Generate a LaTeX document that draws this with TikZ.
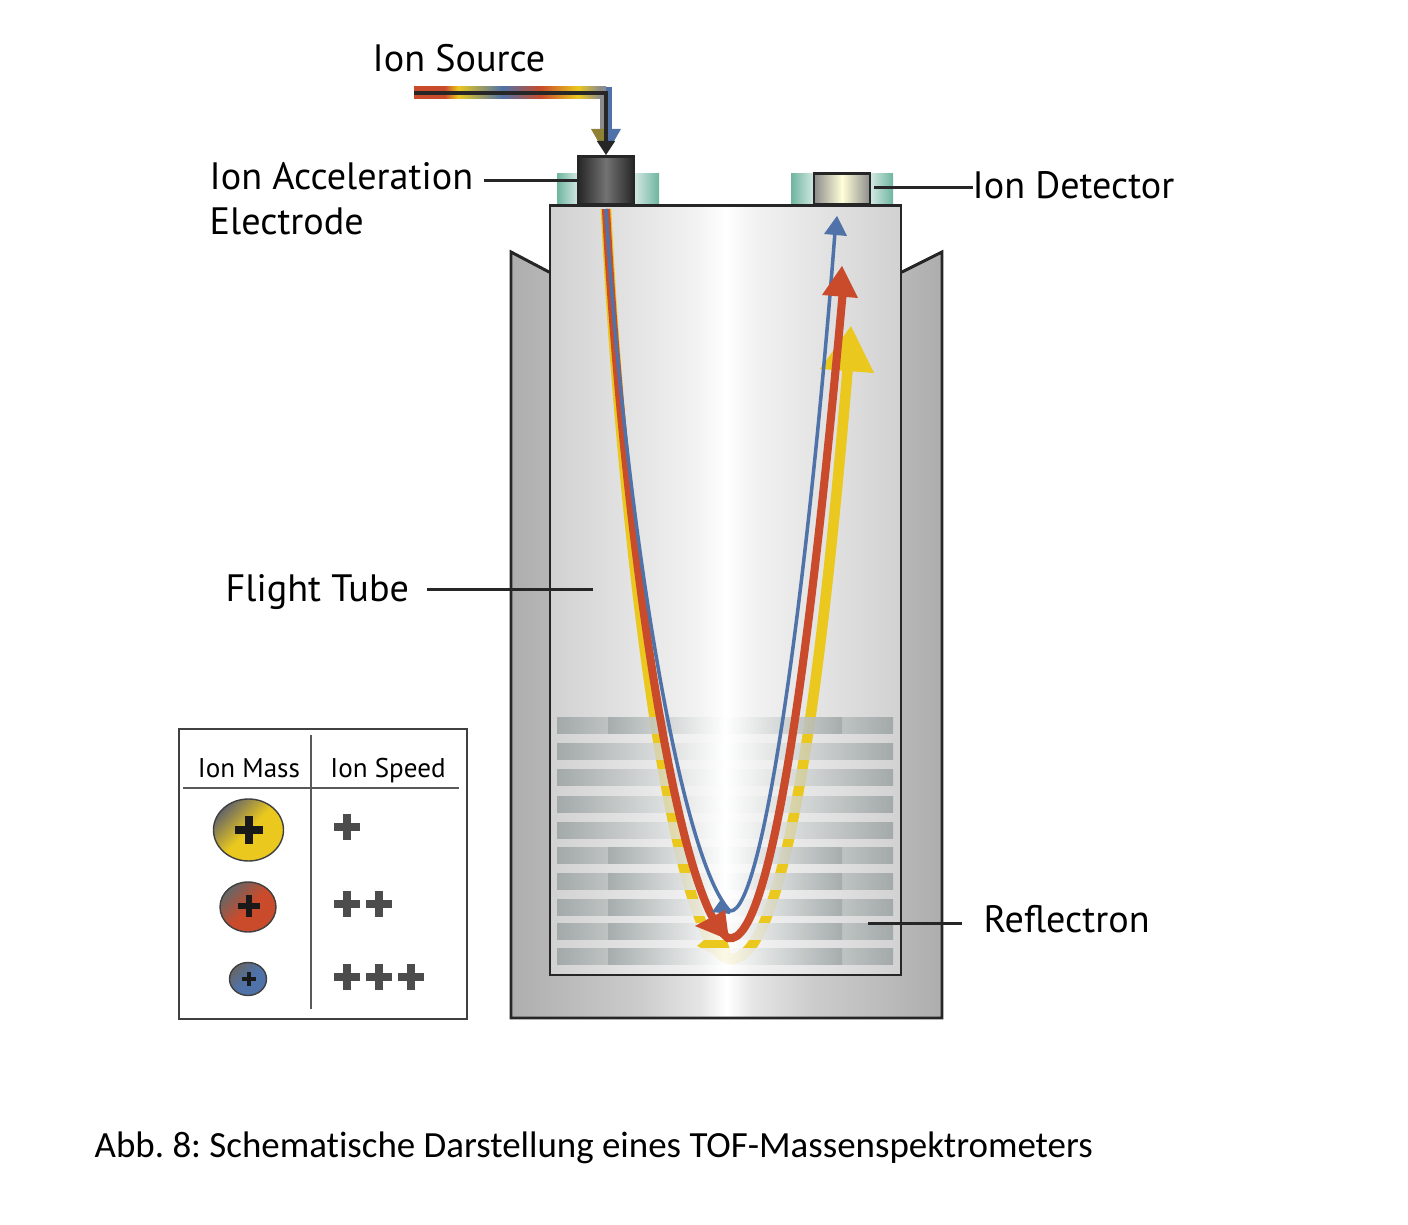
\documentclass[tikz,border=0pt]{standalone}
\usepackage{fontspec}
\setmainfont{PT Sans}
\newfontfamily\capfont[Ligatures=NoCommon]{Carlito}
\usetikzlibrary{shapes.geometric,arrows.meta,calc}
\definecolor{ionyellow}{HTML}{EAC81E}
\definecolor{ionred}{HTML}{C94B2B}
\definecolor{ionblue}{HTML}{4F72A8}
\definecolor{ionteal}{HTML}{6FB5A0}
\definecolor{plategray}{HTML}{939C9B}
\pgfdeclarehorizontalshading{ionbeam}{100bp}{color(0bp)=(ionred);color(25bp)=(ionred);
  color(33bp)=(ionred);color(36.5bp)=(ionyellow);color(48bp)=(ionblue);
  color(58bp)=(ionred);color(67.7bp)=(ionyellow);color(73.4bp)=(black!45);
  color(75bp)=(black!45);color(100bp)=(black!45)}
\pgfdeclarehorizontalshading{housing}{100bp}{color(0bp)=(black!32);color(25bp)=(black!32);
  color(40bp)=(black!20);color(47bp)=(black!10);color(50bp)=(white);color(53bp)=(black!10);
  color(60bp)=(black!20);color(75bp)=(black!32);color(100bp)=(black!32)}
\pgfdeclarehorizontalshading{flight}{100bp}{color(0bp)=(black!18);color(25bp)=(black!18);
  color(38bp)=(black!10);color(46bp)=(black!5);color(50bp)=(white);color(54bp)=(black!5);
  color(62bp)=(black!10);color(75bp)=(black!18);color(100bp)=(black!18)}
\tikzset{
  leader/.style={line width=.85pt,black!85},
  label/.style={inner sep=0pt,anchor=base west,font=\fontsize{10.85}{12.8}\selectfont},
  headtext/.style={inner sep=0pt,anchor=base,font=\fontsize{7.7}{9}\selectfont},
  wall/.style={draw=black!85,line width=.85pt},
  legendline/.style={line width=.4pt,black!65},
  ball/.style={ellipse,inner sep=0pt,draw=black!75,line width=.4pt,
    top color=black!60,bottom color=#1,middle color=#1,shading angle=45}
}
\newcommand{\plusmark}[5]{\draw[#4,line width=#5pt] (#1-#3,#2)--(#1+#3,#2) (#1,#2-#3)--(#1,#2+#3);}
\begin{document}
\begin{tikzpicture}[x=0.01cm,y=-0.01cm]
  \useasboundingbox (0,0) rectangle (1408,1225);
  % housing and flight tube
  \shade[wall,shading=housing]
    (511,252)--(549,272)--(902,272)--(942,252)--(942,1018)--(511,1018)--cycle;
  \shade[left color=ionteal,right color=ionteal!30] (557,174) rectangle (578,205);
  \shade[left color=ionteal!30,right color=ionteal] (634,174) rectangle (659,205);
  \shade[left color=ionteal,right color=ionteal!30] (791,174) rectangle (814,205);
  \shade[left color=ionteal!30,right color=ionteal] (870,174) rectangle (893,205);
  \shade[wall,shading=flight] (550,206) rectangle (901,975);
  \shade[wall,left color=black!85,right color=black!85,middle color=black!55] (578,157) rectangle (634,205);
  \shade[wall,left color=black!45,right color=black!45,middle color=yellow!15] (814,174) rectangle (870,205);
  % slowest ions run behind the plates
  \draw[ionyellow,line width=3pt] (606,209) .. controls (621,520) and (672,962) .. (732,959)
    .. controls (790,957) and (825,640) .. (848,365);
  \fill[ionyellow] (851,326)--(874,373)--(820,369)--cycle;
  \fill[ionyellow] (697,946)--(722,925)--(735,965)--cycle;
  % reflectron plates
  \foreach \py in {718,744,770,797,823,848,874,900,924,949}{
    \shade[fill opacity=.75,left color=plategray,right color=plategray,middle color=white] (557,\py) rectangle (893,\py+16);
  }
  \foreach \py in {718,848,874,900,924,949}{
    \shade[fill opacity=.55,left color=plategray,right color=plategray,middle color=white] (608,\py) rectangle (842,\py+16);
  }
  % faster ions in front
  \draw[ionred,line width=2.3pt] (606,209) .. controls (622,520) and (675,900) .. (728,938)
    .. controls (775,950) and (815,600) .. (843,290);
  \draw[ionblue,line width=1pt] (606,209) .. controls (625,520) and (680,860) .. (730,911)
    .. controls (765,915) and (810,560) .. (835,232);
  \fill[ionblue] (722,898)--(712,912)--(730,914)--cycle;
  \fill[ionred] (695,926)--(725,910)--(729,940)--cycle;
  \fill[ionred] (842,266)--(858,298)--(822,295)--cycle;
  \fill[ionblue] (837,216)--(847,236)--(824,234)--cycle;
  % ion source
  \fill[shading=ionbeam] (414,87) rectangle (606,99);
  \fill[black!45] (600,93) rectangle (606,135);
  \fill[ionblue] (606,87) rectangle (612,135);
  \fill[black!35!ionyellow!70!gray] (591,129)--(606,129)--(606,155)--cycle;
  \fill[ionblue] (621,129)--(606,129)--(606,155)--cycle;
  \coordinate (beamstart) at (414,93);
  \coordinate (beamcorner) at (606,93);
  \coordinate (beamend) at (606,155);
  \draw[line width=.9pt,black!85,-{Triangle[length=4pt,width=5pt]}] (beamstart)--(beamcorner)--(beamend);
  % labels
  \node[label] (source) at (372,72) {Ion Source};
  \node[label,anchor=west,align=left] (accel) at (209,199) {Ion Acceleration\\Electrode};
  \node[label] (detector) at (972,199) {Ion Detector};
  \node[label] (tube) at (225,602) {Flight Tube};
  \node[label] (reflectron) at (983,933) {Reflectron};
  \coordinate (accelA) at (484,181); \coordinate (accelB) at (578,181);
  \coordinate (detA) at (874,188); \coordinate (detB) at (973,188);
  \coordinate (tubeA) at (427,590); \coordinate (tubeB) at (593,590);
  \coordinate (refA) at (868,924); \coordinate (refB) at (962,924);
  \draw[leader] (accelA)--(accelB);
  \draw[leader] (detA)--(detB);
  \draw[leader] (tubeA)--(tubeB);
  \draw[leader] (refA)--(refB);
  % legend
  \draw[line width=.45pt,black!75] (179,729) rectangle (467,1019);
  \coordinate (legtop) at (311,735); \coordinate (legbot) at (311,1009);
  \coordinate (legleft) at (183,788); \coordinate (legright) at (459,788);
  \draw[legendline] (legtop)--(legbot);
  \draw[legendline] (legleft)--(legright);
  \node[headtext] (mass) at (249,778) {Ion Mass};
  \node[headtext] (speed) at (388,778) {Ion Speed};
  \node[ball=ionyellow,minimum width=70*0.01cm,minimum height=62*0.01cm] (massA) at (248.5,830) {};
  \node[ball=ionred,minimum width=56*0.01cm,minimum height=50*0.01cm] (massB) at (248,907) {};
  \node[ball=ionblue,minimum width=37*0.01cm,minimum height=33*0.01cm] (massC) at (248,979) {};
  \plusmark{249}{830}{14}{black!90}{2}
  \plusmark{249}{906}{11}{black!90}{1.7}
  \plusmark{249}{979}{7}{black!90}{1.1}
  \foreach \sx/\sy in {347/827,347/904,379/904,347/977,379/977,411/977}{
    \plusmark{\sx}{\sy}{13}{black!70}{2.2}
  }
  % caption
  \node[label,font=\capfont\frenchspacing\fontsize{10.5}{13}\selectfont] (caption) at (94,1158) {Abb. 8: Schematische Darstellung eines TOF-Massenspektrometers};
\end{tikzpicture}
\end{document}
